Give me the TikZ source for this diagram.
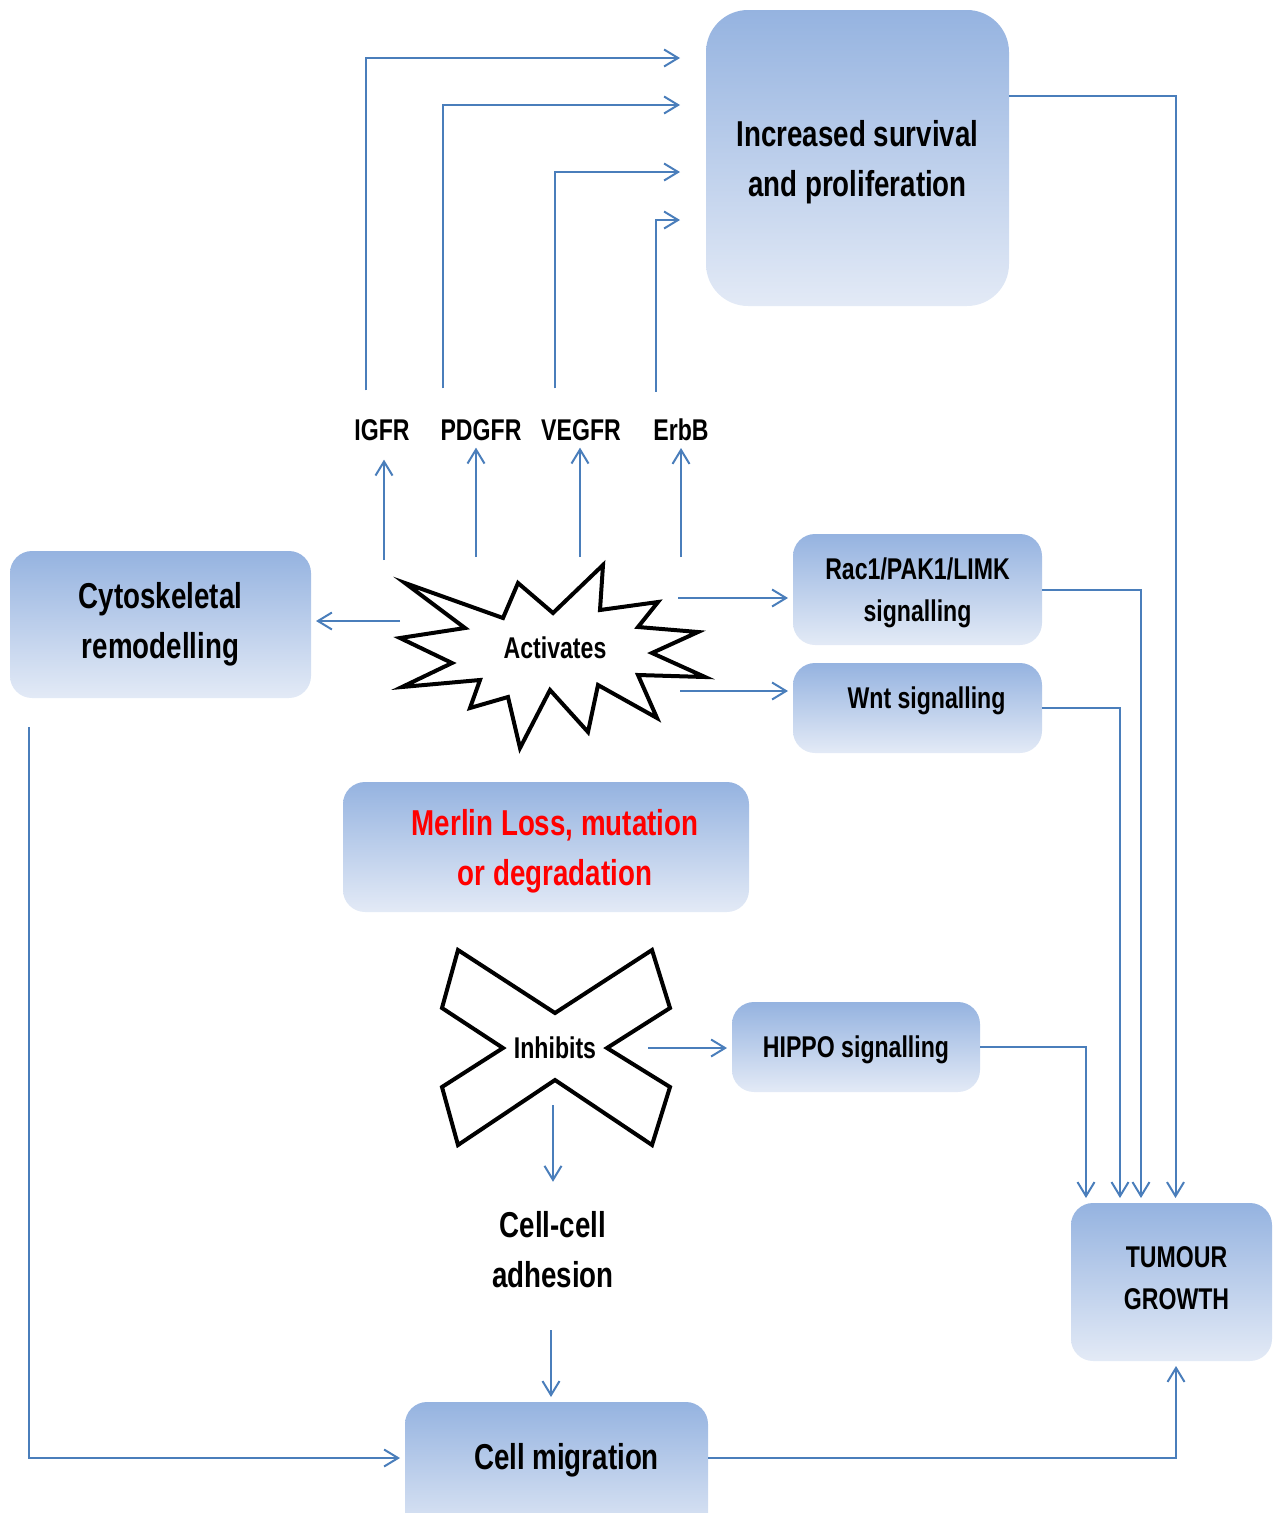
\documentclass[tikz,border=0pt]{standalone}
\usepackage{fontspec}
\setmainfont{Liberation Sans}[FakeStretch=0.77]
\usetikzlibrary{arrows.meta}
\definecolor{mlInk}{HTML}{000000}
\definecolor{mlBlue}{HTML}{4A7EBB}
\definecolor{mlTop}{HTML}{95B3E0}
\definecolor{mlBot}{HTML}{E3EAF6}
\definecolor{mlRed}{HTML}{FF0000}

\begin{document}
\begin{tikzpicture}[
  x=1pt,y=-1pt,
  font=\bfseries\fontsize{30}{42}\selectfont,
  every node/.style={text=mlInk,align=center,outer sep=0pt,inner sep=0pt},
  box/.style={rounded corners=22pt,top color=mlTop,bottom color=mlBot,draw=none},
  big/.style={font=\bfseries\fontsize{36}{50}\selectfont},
  flow/.style={draw=mlBlue,line width=2pt,-{Straight Barb[length=14pt,width=17pt]},shorten >=5pt},
  burst/.style={line width=4pt,draw=mlInk,fill=white,line join=miter}
]
\path[use as bounding box] (0,0) rectangle (1278,1513);
% boxes
\node[box,big,minimum width=303,minimum height=296,rounded corners=42pt,text depth=0pt] (surv) at (857.5,158)
  {Increased survival\\and proliferation};
\node[box,big,minimum width=301,minimum height=147] (cyto) at (160.5,624.5) {Cytoskeletal\\remodelling};
\node[box,minimum width=249,minimum height=111,text depth=0pt] (rac) at (917.5,589.5) {Rac1/PAK1/LIMK\\signalling};
\node[box,minimum width=249,minimum height=90,text depth=20pt] (wnt) at (917.5,708)
  {\hspace*{18pt}Wnt signalling};
\node[box,big,minimum width=406,minimum height=130,text=mlRed,text depth=0pt] (merlin) at (546,847)
  {\hspace*{18pt}Merlin Loss, mutation\\\hspace*{18pt}or degradation};
\node[box,minimum width=248,minimum height=90,text depth=0pt] (hippo) at (856,1047) {HIPPO signalling};
\node[box,minimum width=201,minimum height=158,text depth=8pt] (tumour) at (1171.5,1282)
  {\hspace*{10pt}TUMOUR\\\hspace*{10pt}GROWTH};
\node[box,big,minimum width=303,minimum height=140,text depth=31pt] (migr) at (556.5,1472)
  {\hspace*{20pt}Cell migration};
\node[big] (adh) at (553,1250) {Cell-cell\\adhesion};
% receptors
\node (igfr) at (382,430) {IGFR};
\node (pdgfr) at (481,430) {PDGFR};
\node (vegfr) at (581,430) {VEGFR};
\node (erbb) at (681,430) {ErbB};
% starburst
\draw[burst] (405,583) -- (503,618) -- (518,583) -- (553,613) -- (603,565) -- (600,610)
  -- (658,602) -- (638,627) -- (698,632) -- (652,653) -- (705,677) -- (638,675)
  -- (657,718) -- (598,685) -- (588,732) -- (550,690) -- (520,748) -- (508,697)
  -- (470,708) -- (480,680) -- (402,687) -- (452,663) -- (400,638) -- (465,628) -- cycle;
\node (act) at (555,648) {Activates};
\coordinate (burstN1) at (384,560);
\coordinate (burstN2) at (476,557);
\coordinate (burstN3) at (580,557);
\coordinate (burstN4) at (681,557);
\coordinate (burstW) at (400,621);
\coordinate (burstE1) at (678,598);
\coordinate (burstE2) at (680,691);
% cross
\draw[burst] (458,950) -- (555,1013) -- (652,950) -- (670,1008) -- (607,1048) -- (670,1087)
  -- (652,1145) -- (555,1080) -- (458,1145) -- (442,1087) -- (503,1048) -- (442,1008) -- cycle;
\node (inh) at (555,1048) {Inhibits};
\coordinate (crossE) at (648,1048);
\coordinate (crossS) at (553,1105);
% receptors to survival
\draw[flow,shorten >=26pt] ([shift={(-16,-29)}]igfr.north) |- ([shift={(0,48)}]surv.north west);
\draw[flow,shorten >=26pt] ([shift={(-38,-31)}]pdgfr.north) |- ([shift={(0,95)}]surv.north west);
\draw[flow,shorten >=26pt] ([shift={(-26,-31)}]vegfr.north) |- ([shift={(0,162)}]surv.north west);
\draw[flow,shorten >=26pt] ([shift={(-25,-27)}]erbb.north) |- ([shift={(0,210)}]surv.north west);
% activates
\draw[flow,shorten >=19pt] (burstN1) -- (burstN1 |- igfr.south);
\draw[flow,shorten >=7pt] (burstN2) -- (burstN2 |- pdgfr.south);
\draw[flow,shorten >=7pt] (burstN3) -- (burstN3 |- vegfr.south);
\draw[flow,shorten >=7pt] (burstN4) -- (burstN4 |- erbb.south);
\draw[flow] (burstW) -- (burstW -| cyto.east);
\draw[flow] (burstE1) -- (burstE1 -| rac.west);
\draw[flow] (burstE2) -- (burstE2 -| wnt.west);
% inhibits
\draw[flow] (crossE) -- (crossE -| hippo.west);
\draw[flow,shorten >=30pt] (crossS) -- (crossS |- adh.north);
\draw[flow,shorten <=42pt] ([xshift=-2pt]adh.south) -- ([xshift=-2pt]adh.south |- migr.north);
% to tumour growth
\draw[flow] ([shift={(0,86)}]surv.north east) -| ([xshift=4pt]tumour.north);
\draw[flow] (rac.east) -| ([xshift=-30.5pt]tumour.north);
\draw[flow] (wnt.east) -| ([xshift=-51.5pt]tumour.north);
\draw[flow] (hippo.east) -| ([xshift=-85.5pt]tumour.north);
\draw[flow] ([shift={(19,29)}]cyto.south west) |- ([yshift=14pt]migr.west);
\draw[flow] ([yshift=14pt]migr.east) -| ([xshift=4.5pt]tumour.south);
\end{tikzpicture}
\end{document}
